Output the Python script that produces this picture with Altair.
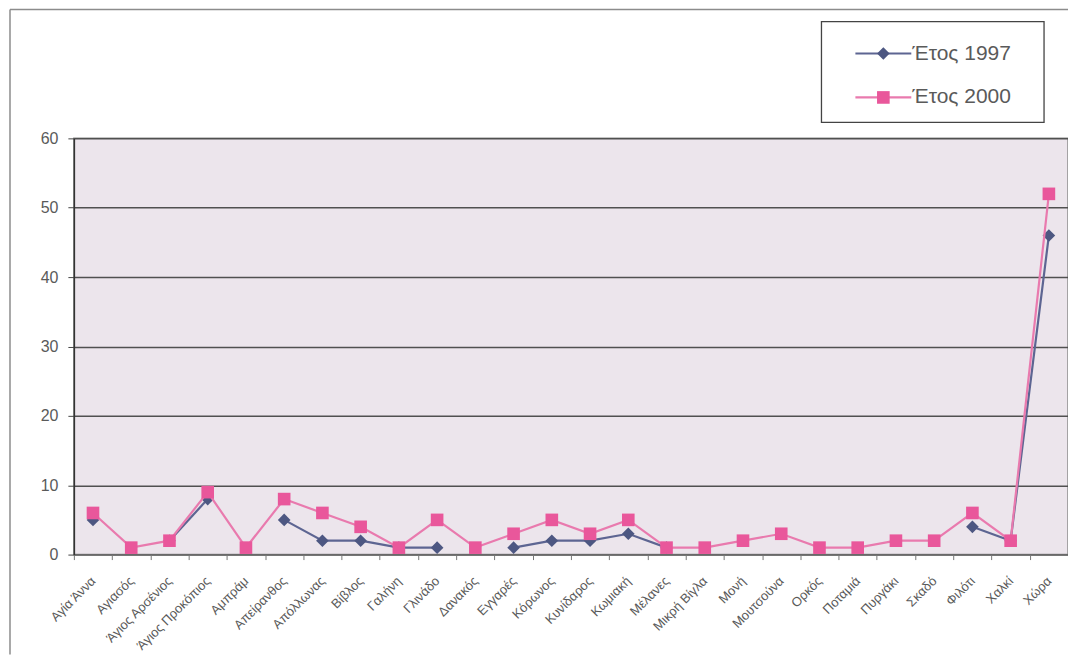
import altair as alt
import pandas as pd

villages = ["Αγία Άννα", "Αγιασός", "Άγιος Αρσένιος", "Άγιος Προκόπιος", "Αμπράμ",
            "Απείρανθος", "Απόλλωνας", "Βίβλος", "Γαλήνη", "Γλινάδο", "Δανακός",
            "Εγγαρές", "Κόρωνος", "Κυνίδαρος", "Κωμιακή", "Μέλανες", "Μικρή Βίγλα",
            "Μονή", "Μουτσούνα", "Ορκός", "Ποταμιά", "Πυργάκι", "Σκαδό", "Φιλότι",
            "Χαλκί", "Χώρα"]
y1997 = [5, None, 2, 8, None, 5, 2, 2, 1, 1, None, 1, 2, 2, 3, 1, None, None,
         None, None, None, None, None, 4, 2, 46]
y2000 = [6, 1, 2, 9, 1, 8, 6, 4, 1, 5, 1, 3, 5, 3, 5, 1, 1, 2, 3, 1, 1, 2, 2,
         6, 2, 52]
series_names = ["Έτος 1997", "Έτος 2000"]
y_ticks = [0, 10, 20, 30, 40, 50, 60]

FONT = "Liberation Sans"
BLUE_LINE, BLUE_MARK = "#5d6592", "#4d5782"
PINK_LINE, PINK_MARK = "#e97aae", "#e9579b"

W, H = 996, 417

rows = []
for name, vals in zip(series_names, [y1997, y2000]):
    seg = 0
    prev_none = True
    for v_name, v in zip(villages, vals):
        if v is None:
            prev_none = True
            continue
        if prev_none:
            seg += 1
        prev_none = False
        rows.append({"village": v_name, "series": name, "value": v, "seg": seg})
df = pd.DataFrame(rows)

x_enc = alt.X("village:N", sort=villages, bandPosition=0.5,
              scale=alt.Scale(type="band", paddingInner=0, paddingOuter=0),
              axis=alt.Axis(title=None, labelAngle=-45, labelAlign="right",
                            labelBaseline="middle", labelPadding=19,
                            tickBand="extent", tickSize=5, tickColor="#777",
                            domainColor="#777", labelFont=FONT,
                            labelFontSize=13, labelColor="#5a5a5a", grid=False))
y_enc = alt.Y("value:Q", scale=alt.Scale(domain=[0, 60], nice=False),
              axis=alt.Axis(title=None, values=y_ticks, grid=True,
                            gridColor="#505050", gridWidth=1.5, tickSize=6,
                            tickColor="#444", domainColor="#333",
                            domainWidth=1.5, labelFont=FONT,
                            labelFontSize=16, labelColor="#5a5a5a",
                            labelPadding=10))

base = alt.Chart(df)
layers = []
# chart-area border (decoration): top and left edges
border = pd.DataFrame({"a": [0]})
layers.append(alt.Chart(border).mark_rule(color="#8c8c8c", strokeWidth=1.5).encode(
    x=alt.value(-64), x2=alt.value(W + 10), y=alt.value(-129)))
layers.append(alt.Chart(border).mark_rule(color="#8c8c8c", strokeWidth=1.5).encode(
    x=alt.value(-64), y=alt.value(-129), y2=alt.value(H + 100)))

for name, lc, mc, shape, size in [
        (series_names[0], BLUE_LINE, BLUE_MARK, "diamond", 160),
        (series_names[1], PINK_LINE, PINK_MARK, "square", 160)]:
    sub = base.transform_filter(alt.datum.series == name)
    layers.append(sub.mark_line(color=lc, strokeWidth=2.2).encode(
        x=x_enc, y=y_enc, detail="seg:N"))
    layers.append(sub.mark_point(shape=shape, filled=True, color=mc, opacity=1,
                                 size=size).encode(x=x_enc, y=y_enc))

# legend box
layers.append(alt.Chart(border).mark_rect(
    fill="white", stroke="#444", strokeWidth=1.3).encode(
    x=alt.value(749), x2=alt.value(972), y=alt.value(-117), y2=alt.value(-16)))
for name, lc, mc, shape, ly in [
        (series_names[0], BLUE_LINE, BLUE_MARK, "diamond", -85),
        (series_names[1], PINK_LINE, PINK_MARK, "square", -41)]:
    ldf = pd.DataFrame({"name": [name]})
    layers.append(alt.Chart(ldf).mark_rule(color=lc, strokeWidth=2.2).encode(
        x=alt.value(783), x2=alt.value(839), y=alt.value(ly)))
    layers.append(alt.Chart(ldf).mark_point(shape=shape, filled=True, color=mc,
                                            opacity=1, size=160).encode(
        x=alt.value(811), y=alt.value(ly)))
    layers.append(alt.Chart(ldf).mark_text(align="left", baseline="middle",
                                           font=FONT, fontSize=21,
                                           color="#5a5a5a").encode(
        x=alt.value(840), y=alt.value(ly), text="name:N"))

chart = alt.layer(*layers).properties(
    width=W, height=H,
    autosize=alt.AutoSizeParams(type="none"),
    padding={"left": 66, "top": 130, "right": 0, "bottom": 100},
    background="white",
).configure_view(fill="#ece5ec", stroke="#8c8c8c", strokeWidth=1.5)

chart.save("out.html", embed_options={"renderer": "svg", "actions": False})
